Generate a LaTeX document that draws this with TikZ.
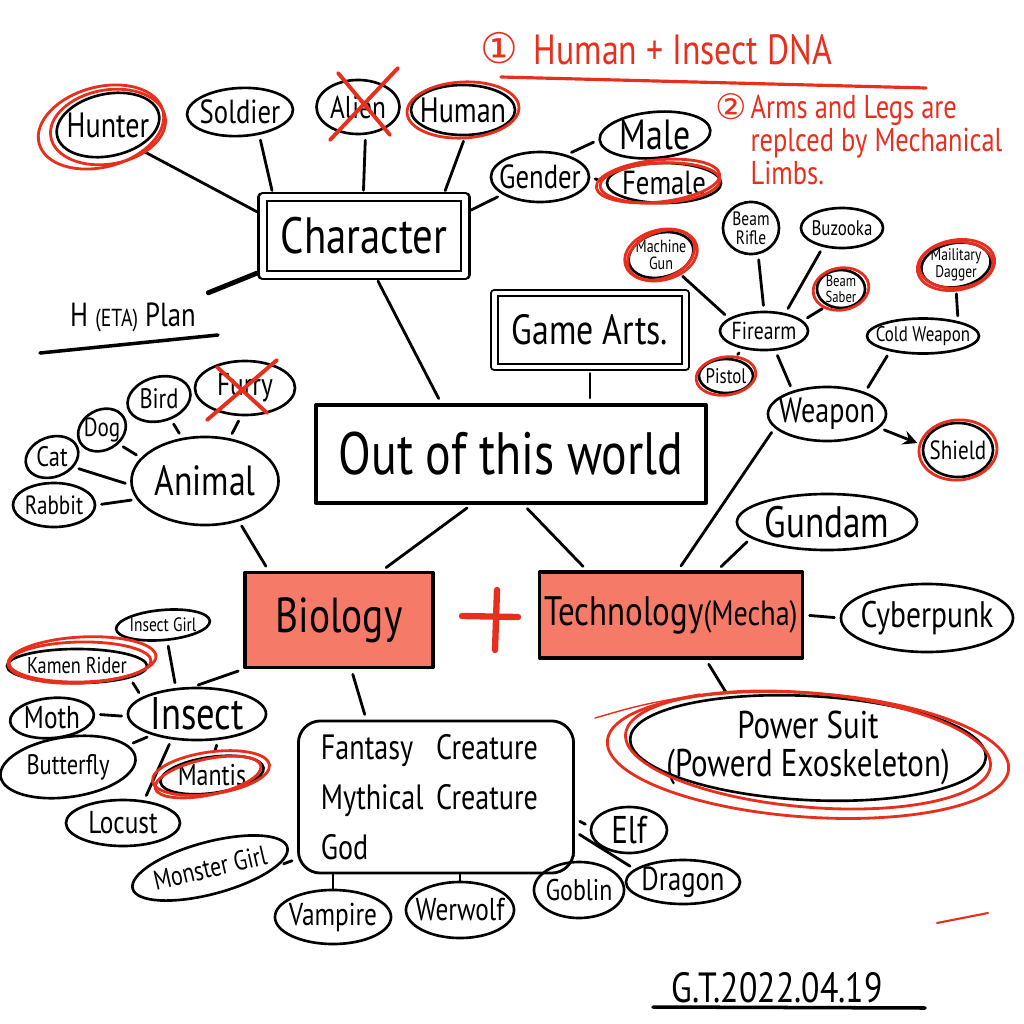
\documentclass[tikz,border=0pt]{standalone}
\usepackage{fontspec}
\setmainfont[FakeStretch=0.8]{PT Sans}
\newfontfamily\numfont{DejaVu Sans}
\usetikzlibrary{shapes.geometric}
\definecolor{penred}{RGB}{232,46,28}
\definecolor{salmon}{RGB}{246,122,104}
\newcommand\handsize[1]{\fontsize{#1}{#1}\selectfont}
\tikzset{
  oval/.style={draw, ellipse, line width=.75pt, inner sep=0pt},
  wh/.style 2 args={minimum width=#1*0.1mm, minimum height=#2*0.1mm},
  lbl/.style 2 args={label={[font=\handsize{#1}, align=center, inner sep=0pt]center:#2}},
  sqbox/.style={draw, rectangle, line width=1pt, inner sep=0pt},
  redring/.style={draw=penred, line width=.8pt},
  redx/.style={draw=penred, line width=1.1pt},
  lnk/.style={line width=.8pt, shorten <=1.5pt, shorten >=1.5pt},
  tick/.style={line width=.8pt},
  note/.style={text=penred, inner sep=0pt},
}
\begin{document}
\begin{tikzpicture}[x=0.01cm, y=-0.01cm, line cap=round, line join=round]
\useasboundingbox (0,0) rectangle (1024,1024);

\node[note, font=\numfont\handsize{12}] (one) at (499,48) {①};
\node[note, font=\handsize{12}, anchor=west] (dna) at (533,50) {Human + Insect DNA};
\draw[penred, line width=.9pt] (501,77) -- (926,88);
\node[note, font=\numfont\handsize{10}] (two) at (731,107) {②};
\node[note, font=\fontsize{9.4}{9.3}\selectfont, align=left, anchor=west] (arms) at (750,140) {Arms and Legs are\\replced by Mechanical\\Limbs.};

\node[sqbox, double, double distance=1.5pt, line width=.8pt, wh={202}{78}, font=\handsize{14.5}] (char) at (364,236) {Character};
\node[oval, wh={104}{62}, rotate=12, lbl={10}{Hunter}] (hunter) at (108,125) {};
\node[oval, wh={106}{48}, rotate=3, lbl={9.5}{Soldier}] (soldier) at (240,112) {};
\node[oval, wh={83}{54}, lbl={9}{Alien}] (alien) at (358,107) {};
\node[oval, wh={104}{50}, lbl={10}{Human}] (human) at (463,110) {};
\node[oval, wh={98}{50}, lbl={9.5}{Gender}] (gender) at (540,177) {};
\node[oval, wh={111}{46}, rotate=5, lbl={12}{Male}] (male) at (655,135) {};
\node[oval, wh={114}{40}, lbl={9.5}{Female}] (female) at (664,183) {};
\node[font=\handsize{9.5}, inner sep=2pt] (plan) at (133,317) {H {\handsize{7}(ETA)} Plan};
\draw[line width=1pt] (40,353) -- (218,335);

\draw[lnk] (hunter.-50) -- (char.168);
\draw[lnk] (soldier.-53) -- (char.156);
\draw[lnk] (alien.-75) -- (char.91);
\draw[lnk] (human.-85) -- (char.27);
\draw[lnk] (char.13) -- (gender.-155);
\draw[lnk] (gender.40) -- (male.180);
\draw[lnk] (gender.east) -- (female.west);
\draw[lnk, line width=1.4pt] (char.-161) -- (plan.north east);

\draw[redring] ([shift={(0,2)}]hunter.center) circle [x radius=5.8mm, y radius=3.7mm, rotate=10];
\draw[redring] ([shift={(-7,2)}]hunter.center) circle [x radius=6.4mm, y radius=4.0mm, rotate=15];
\draw[redring] (human.center) circle [x radius=5.6mm, y radius=2.8mm, rotate=3];
\draw[redring] ([shift={(-6,-2)}]female.center) circle [x radius=6.2mm, y radius=2.1mm, rotate=6];
\draw[redring] ([shift={(-4,0)}]female.center) circle [x radius=6.0mm, y radius=2.0mm, rotate=3];
\draw[redx] ([shift={(-20,-34)}]alien.center) -- ([shift={(32,28)}]alien.center);
\draw[redx] ([shift={(40,-39)}]alien.center) -- ([shift={(-28,33)}]alien.center);

\node[sqbox, line width=.6pt, double, double distance=1.2pt, wh={191}{74}, font=\handsize{12}] (game) at (590,330) {Game Arts.};
\node[sqbox, wh={390}{98}, font=\handsize{17}] (out) at (511,454) {Out of this world};
\draw[lnk] (char.-74) -- (out.144);
\draw[lnk] (game.south) -- (game.south |- out.north);

\node[oval, wh={66}{44}, rotate=15, lbl={5}{Machine\\Gun}] (mgun) at (661,255) {};
\node[oval, wh={56}{52}, lbl={5.5}{Beam\\Rifle}] (rifle) at (751,228) {};
\node[oval, wh={82}{40}, lbl={6}{Buzooka}] (bazooka) at (842,228) {};
\node[oval, wh={48}{38}, lbl={4.5}{Beam\\Saber}] (saber) at (841,289) {};
\node[oval, wh={88}{38}, lbl={7}{Firearm}] (firearm) at (764,331) {};
\node[oval, wh={54}{34}, lbl={6}{Pistol}] (pistol) at (726,376) {};
\node[oval, wh={70}{44}, rotate=10, lbl={4.8}{Mailitary\\Dagger}] (dagger) at (956,265) {};
\node[oval, wh={112}{35}, lbl={6}{Cold Weapon}] (cold) at (923,336) {};
\node[oval, wh={118}{54}, lbl={10}{Weapon}] (weapon) at (827,414) {};
\node[oval, wh={70}{54}, lbl={7.5}{Shield}] (shield) at (958,450) {};

\draw[lnk] (mgun.-60) -- (firearm.160);
\draw[lnk] (rifle.-75) -- (firearm.90);
\draw[lnk] (bazooka.-135) -- (firearm.40);
\draw[lnk] (saber.-130) -- (firearm.15);
\draw[lnk] (firearm.-140) -- (pistol.65);
\draw[lnk] (firearm.-60) -- (weapon.146);
\draw[lnk] (dagger.-100) -- (cold.23);
\draw[lnk] (cold.-155) -- (weapon.30);
\draw[lnk, -stealth] (weapon.-15) -- (shield.172);

\draw[redring] (mgun.center) circle [x radius=3.7mm, y radius=2.5mm, rotate=15];
\draw[redring] (mgun.center) circle [x radius=3.5mm, y radius=2.3mm, rotate=22];
\draw[redring] (saber.center) circle [x radius=2.8mm, y radius=2.1mm, rotate=10];
\draw[redring] (pistol.center) circle [x radius=3.0mm, y radius=1.9mm, rotate=8];
\draw[redring] (dagger.center) circle [x radius=3.9mm, y radius=2.5mm, rotate=10];
\draw[redring] (dagger.center) circle [x radius=3.7mm, y radius=2.3mm, rotate=4];
\draw[redring] (shield.center) circle [x radius=3.9mm, y radius=3.0mm, rotate=5];

\node[oval, wh={100}{54}, lbl={9}{Furry}] (furry) at (245,388) {};
\node[oval, wh={64}{44}, rotate=15, lbl={8}{Bird}] (bird) at (159,399) {};
\node[oval, wh={50}{40}, rotate=30, lbl={7.5}{Dog}] (dog) at (102,430) {};
\node[oval, wh={54}{40}, rotate=20, lbl={8}{Cat}] (cat) at (52,457) {};
\node[oval, wh={82}{44}, lbl={7.5}{Rabbit}] (rabbit) at (54,505) {};
\node[oval, wh={147}{88}, lbl={12}{Animal}] (animal) at (205,481) {};
\draw[lnk] (bird.-75) -- (animal.118);
\draw[lnk] (furry.-98) -- (animal.60);
\draw[lnk] (dog.-70) -- (animal.160);
\draw[lnk] (cat.-45) -- (animal.183);
\draw[lnk] (rabbit.east) -- (animal.-165);
\draw[redx] ([shift={(-28,-21)}]furry.center) -- ([shift={(22,25)}]furry.center);
\draw[redx] ([shift={(32,-28)}]furry.center) -- ([shift={(-38,32)}]furry.center);

\node[sqbox, fill=salmon, wh={188}{95}, font=\handsize{14}] (bio) at (339,620) {Biology};
\node[sqbox, fill=salmon, wh={263}{86}, font=\handsize{11.7}] (tech) at (671,615) {Technology{\handsize{10}(Mecha)}};
\draw[penred, line width=1.8pt] (462,616) -- (518,617);
\draw[penred, line width=1.8pt] (497,590) -- (495,650);
\node[oval, wh={180}{56}, lbl={12.5}{Gundam}] (gundam) at (827,522) {};
\node[oval, wh={172}{68}, lbl={10.5}{Cyberpunk}] (cyber) at (927,618) {};
\node[oval, wh={356}{104}, rotate=-3, lbl={11}{Power Suit\\(Powerd Exoskeleton)}] (power) at (808,748) {};

\draw[lnk] (animal.-50) -- (bio.145);
\draw[lnk] (out.-128) -- (bio.49);
\draw[lnk] (out.-76) -- (tech.152);
\draw[lnk] (weapon.-165) -- (tech.81);
\draw[lnk] (tech.44) -- (gundam.-168);
\draw[lnk] (tech.east) -- (cyber.west);
\draw[lnk] (tech.-52) -- (power.150);
\draw[redring] ([shift={(0,7)}]power.center) circle [x radius=20.1mm, y radius=6.2mm, rotate=-4];
\draw[redring] ([shift={(0,2)}]power.center) circle [x radius=18.3mm, y radius=5.7mm, rotate=-5];
\draw[penred, line width=.4pt] (595,718) .. controls (640,705) .. (700,694);

\node[oval, wh={94}{30}, rotate=5, lbl={5.5}{Insect Girl}] (igirl) at (163,625) {};
\node[oval, wh={140}{34}, lbl={6.5}{Kamen Rider}] (kamen) at (77,666) {};
\node[oval, wh={138}{52}, lbl={13}{Insect}] (insect) at (197,714) {};
\node[oval, wh={84}{40}, rotate=5, lbl={9}{Moth}] (moth) at (52,718) {};
\node[oval, wh={136}{60}, rotate=8, lbl={8}{Butterfly}] (butterfly) at (68,767) {};
\node[oval, wh={104}{36}, rotate=8, lbl={8.5}{Mantis}] (mantis) at (212,775) {};
\node[oval, wh={114}{46}, lbl={9}{Locust}] (locust) at (123,823) {};
\draw[lnk] (igirl.-80) -- (insect.129);
\draw[lnk] (kamen.-13) -- (insect.163);
\draw[lnk] (moth.0) -- (insect.182);
\draw[lnk] (butterfly.12) -- (insect.-155);
\draw[lnk] (locust.47) -- (insect.-135);
\draw[lnk] (mantis.77) -- (insect.-51);
\draw[lnk] (insect.98) -- (bio.south west);
\draw[redring] ([shift={(5,-6)}]kamen.center) circle [x radius=7.4mm, y radius=2.3mm, rotate=3];
\draw[redring] ([shift={(3,-4)}]kamen.center) circle [x radius=7.1mm, y radius=2.0mm, rotate=1];
\draw[redring] ([shift={(-1,-2)}]mantis.center) circle [x radius=5.9mm, y radius=2.1mm, rotate=8];
\draw[redring] ([shift={(-4,2)}]mantis.center) circle [x radius=5.4mm, y radius=1.8mm, rotate=12];

\node[sqbox, rounded corners=2.2mm, line width=.8pt, wh={275}{152}, text width=2.3cm, align=left, font=\fontsize{10}{14.2}\selectfont] (fant) at (436,797) {\makebox[1.15cm][l]{Fantasy}Creature\\\makebox[1.15cm][l]{Mythical}Creature\\God};
\node[oval, wh={160}{52}, rotate=15, label={[font=\handsize{7.8}, rotate=13, inner sep=0pt]center:Monster Girl}] (monster) at (210,868) {};
\node[oval, wh={116}{54}, lbl={9}{Vampire}] (vampire) at (333,917) {};
\node[oval, wh={108}{56}, lbl={9}{Werwolf}] (werwolf) at (460,910) {};
\node[oval, wh={90}{56}, lbl={8.5}{Goblin}] (goblin) at (579,890) {};
\node[oval, wh={114}{44}, lbl={9.5}{Dragon}] (dragon) at (683,882) {};
\node[oval, wh={76}{46}, lbl={11}{Elf}] (elf) at (629,830) {};
\draw[lnk] (bio.-76) -- (fant.132);
\draw[lnk] (monster.-13) -- (fant.-156);
\draw[tick] (vampire.north) -- (vampire.north |- fant.south);
\draw[tick] (werwolf.north) -- (werwolf.north |- fant.south);
\draw[lnk] (goblin.104) -- (fant.-21);
\draw[lnk] (dragon.165) -- (fant.-14);
\draw[lnk] (elf.175) -- (fant.-9);

\draw[penred, line width=.6pt] (937,923) -- (988,913);
\node[font=\handsize{12}, inner sep=0pt] (date) at (777,988) {G.T.2022.04.19};
\draw[line width=1pt] (653,1007) -- (925,1008);
\end{tikzpicture}
\end{document}
